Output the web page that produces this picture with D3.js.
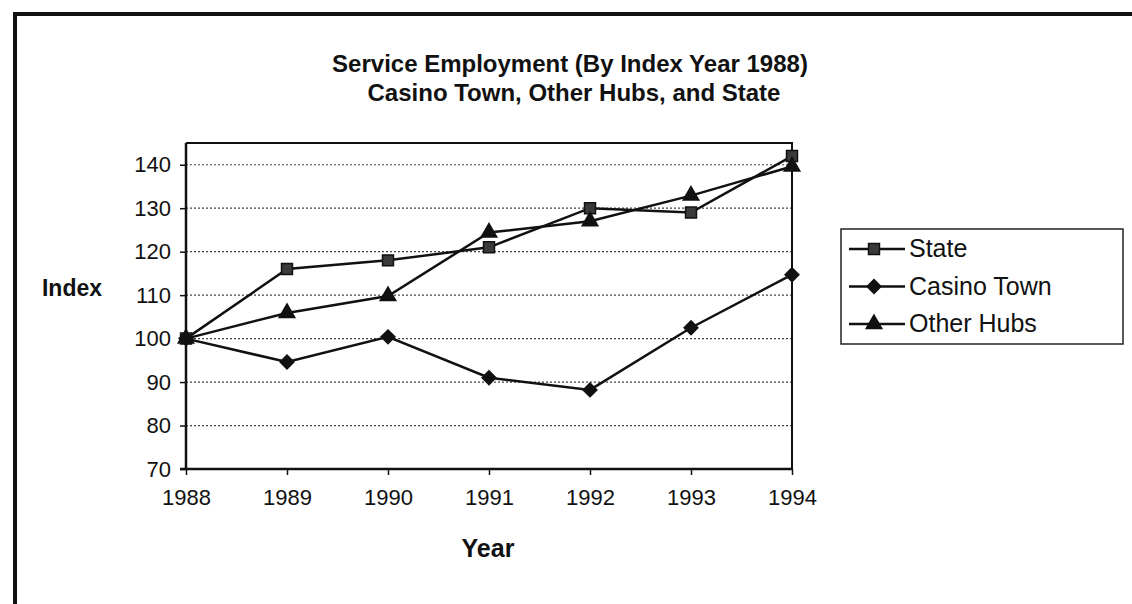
<!DOCTYPE html>
<html>
<head>
<meta charset="utf-8">
<script src="https://cdn.jsdelivr.net/npm/d3@7"></script>
<style>
  body { margin:0; background:#fff; }
  svg { font-family: "Liberation Sans", Arial, sans-serif; }
</style>
</head>
<body>
<svg id="chart"></svg>
<script>
// data
var years = [1988,1989,1990,1991,1992,1993,1994];
var stateVals = [100,116,118,121,130,129,142];
var casinoVals = [100,94.6,100.4,91,88.2,102.5,114.7];
var hubsVals = [100,105.9,109.8,124.4,127,132.9,139.6];
var yTicks = [70,80,90,100,110,120,130,140];
var seriesNames = ["State","Casino Town","Other Hubs"];

var screen = {width:1132,height:604}
var plot = {left:186,right:792,top:143,bottom:469}

var svg = d3.select("#chart")
    .attr("width",screen.width)
    .attr("height",screen.height)

// page frame (top and left edges only, like the scan)
svg.append("path")
    .attr("d","M15,604 L15,14 L1132,14")
    .attr("fill","none")
    .attr("stroke","#111")
    .attr("stroke-width",4)

var xScale = d3.scalePoint()
    .domain(years)
    .range([plot.left,plot.right])

var yScale = d3.scaleLinear()
    .domain([70,145])
    .range([plot.bottom,plot.top])

// gridlines
svg.append("g")
    .selectAll("line")
    .data(yTicks.filter(function(t){return t>70}))
    .enter()
    .append("line")
    .attr("x1",plot.left)
    .attr("x2",plot.right)
    .attr("y1",function(t){return yScale(t)})
    .attr("y2",function(t){return yScale(t)})
    .attr("stroke","#444")
    .attr("stroke-width",1.2)
    .attr("stroke-dasharray","2,2")

// top and right frame of plot
svg.append("path")
    .attr("d","M"+plot.left+","+plot.top+" L"+plot.right+","+plot.top+" L"+plot.right+","+plot.bottom)
    .attr("fill","none")
    .attr("stroke","#111")
    .attr("stroke-width",2)

var yAxis = d3.axisLeft(yScale)
    .tickValues(yTicks)
    .tickSize(6)
    .tickPadding(9)
var gy = svg.append("g")
    .attr("transform","translate("+plot.left+",0)")
    .call(yAxis)
gy.select(".domain").remove()
gy.append("line")
    .attr("x1",0).attr("x2",0)
    .attr("y1",plot.top).attr("y2",plot.bottom)
    .attr("stroke","#111").attr("stroke-width",2.5)

var xAxis = d3.axisBottom(xScale)
    .tickSize(6)
    .tickPadding(14)
var gx = svg.append("g")
    .attr("transform","translate(0,"+plot.bottom+")")
    .call(xAxis)
gx.select(".domain").remove()
gx.append("line")
    .attr("x1",plot.left-6).attr("x2",plot.right)
    .attr("y1",0).attr("y2",0)
    .attr("stroke","#111").attr("stroke-width",2.5)

svg.selectAll(".tick line").attr("stroke","#111").attr("stroke-width",1.5)
svg.selectAll(".tick text")
    .attr("fill","#111")
    .style("font-size","22px")

// marker shapes: square, diamond (rotated square), triangle
var markerPath = [
    d3.symbol().type(d3.symbolSquare).size(120)(),
    d3.symbol().type(d3.symbolSquare).size(95)(),
    d3.symbol().type(d3.symbolTriangle).size(105)()
]
var markerRotate = [0,45,0]
var markerFill = ["#3a3a3a","#111","#111"]

var allSeries = [stateVals,casinoVals,hubsVals]
var line = d3.line()
    .x(function(d,i){return xScale(years[i])})
    .y(function(d){return yScale(d)})

allSeries.forEach(function(vals,k)
{
    var g = svg.append("g")
    g.append("path")
        .datum(vals)
        .attr("d",line)
        .attr("fill","none")
        .attr("stroke","#111")
        .attr("stroke-width",2.5)
    g.selectAll("path.pt")
        .data(vals)
        .enter()
        .append("path")
        .attr("class","pt")
        .attr("d",markerPath[k])
        .attr("transform",function(d,i){
            return "translate("+xScale(years[i])+","+yScale(d)+") rotate("+markerRotate[k]+")"
        })
        .attr("fill",markerFill[k])
        .attr("stroke","#111")
        .attr("stroke-width",1.5)
})

// titles
var labels = svg.append("g")
labels.append("text")
    .text("Service Employment (By Index Year 1988)")
    .attr("x",570).attr("y",72)
    .attr("text-anchor","middle")
    .style("font-size","24px").style("font-weight","bold").attr("fill","#111")
labels.append("text")
    .text("Casino Town, Other Hubs, and State")
    .attr("x",574).attr("y",101)
    .attr("text-anchor","middle")
    .style("font-size","24px").style("font-weight","bold").attr("fill","#111")
labels.append("text")
    .text("Index")
    .attr("x",72).attr("y",296)
    .attr("text-anchor","middle")
    .style("font-size","23px").style("font-weight","bold").attr("fill","#111")
labels.append("text")
    .text("Year")
    .attr("x",488).attr("y",557)
    .attr("text-anchor","middle")
    .style("font-size","25px").style("font-weight","bold").attr("fill","#111")

// legend
var legend = svg.append("g")
    .attr("transform","translate(841,229)")
legend.append("rect")
    .attr("width",282).attr("height",115)
    .attr("fill","none").attr("stroke","#222").attr("stroke-width",1.5)
var entries = legend.selectAll("g.entry")
    .data(seriesNames)
    .enter()
    .append("g")
    .attr("class","entry")
    .attr("transform",function(d,i){return "translate(0,"+(20+i*37.5)+")"})
entries.append("line")
    .attr("x1",8).attr("x2",64)
    .attr("stroke","#111").attr("stroke-width",2.5)
entries.append("path")
    .attr("d",function(d,i){return markerPath[i]})
    .attr("transform",function(d,i){return "translate(33,0) rotate("+markerRotate[i]+")"})
    .attr("fill",function(d,i){return markerFill[i]})
    .attr("stroke","#111").attr("stroke-width",1.5)
entries.append("text")
    .text(function(d){return d})
    .attr("x",68).attr("y",8)
    .style("font-size","25px").attr("fill","#111")
</script>
</body>
</html>
